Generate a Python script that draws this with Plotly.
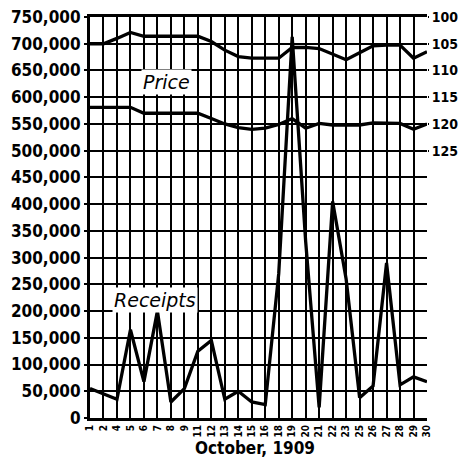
import plotly.graph_objects as go

days = ["1", "2", "4", "5", "6", "7", "8", "9", "11", "12", "13", "14", "15",
        "16", "18", "19", "20", "21", "22", "23", "25", "26", "27", "28", "29", "30"]

receipts = [55000, 45000, 35000, 165000, 68000, 200000, 30000, 55000, 125000, 145000,
            35000, 50000, 30000, 25000, 270000, 713000, 330000, 20000, 405000, 260000,
            38000, 60000, 290000, 62000, 77000, 68000]

price_high = [105.0, 105.0, 104.0, 102.9, 103.6, 103.6, 103.6, 103.6, 103.6, 104.6,
              106.2, 107.4, 107.7, 107.7, 107.7, 105.7, 105.7, 105.9, 107.0, 108.0,
              106.7, 105.4, 105.25, 105.25, 107.7, 106.5]

price_low = [116.9, 116.9, 116.9, 116.9, 118.0, 118.0, 118.0, 118.0, 118.0, 119.0,
             120.0, 120.7, 121.0, 120.8, 120.1, 119.0, 120.8, 119.9, 120.2, 120.2,
             120.2, 119.8, 119.9, 119.9, 121.0, 120.0]

left_ticks = list(range(0, 750001, 50000))
left_labels = ["0" if v == 0 else f"{v:,}" for v in left_ticks]
right_ticks = [100, 105, 110, 115, 120, 125]
right_labels = [str(v) for v in right_ticks]

xs = list(range(len(days)))
FONT = "DejaVu Sans Condensed, DejaVu Sans, sans-serif"
FONT_IT = "DejaVu Sans, sans-serif"

fig = go.Figure()
fig.add_trace(go.Scatter(x=xs, y=receipts, mode="lines",
                         line=dict(color="black", width=3.3), showlegend=False))
fig.add_trace(go.Scatter(x=xs, y=price_high, mode="lines", yaxis="y2",
                         line=dict(color="black", width=3.3), showlegend=False))
fig.add_trace(go.Scatter(x=xs, y=price_low, mode="lines", yaxis="y2",
                         line=dict(color="black", width=3.3), showlegend=False))

fig.update_layout(
    width=458, height=461,
    margin=dict(l=90, r=31, t=17, b=43),
    plot_bgcolor="white", paper_bgcolor="white",
    font=dict(family=FONT, color="black"),
    xaxis=dict(range=[0, len(days) - 1], tickvals=xs, ticktext=days,
               tickangle=-90, tickfont=dict(size=10, family=FONT, weight="bold"),
               showgrid=True, gridcolor="black", gridwidth=2,
               showline=True, linecolor="black", linewidth=3, mirror=True,
               ticks="", zeroline=False, automargin=False),
    yaxis=dict(range=[0, 750000], tickvals=left_ticks, ticktext=left_labels,
               tickfont=dict(size=17, family=FONT, weight="bold"),
               showgrid=True, gridcolor="black", gridwidth=2,
               showline=True, linecolor="black", linewidth=3,
               ticks="outside", ticklen=3, tickwidth=2, tickcolor="black",
               zeroline=False, automargin=False),
    yaxis2=dict(range=[175, 100], overlaying="y", side="right",
                tickvals=right_ticks, ticktext=right_labels,
                tickfont=dict(size=14, family=FONT, weight="bold"),
                showgrid=False, showline=False,
                ticks="outside", ticklen=1, tickwidth=2, tickcolor="black",
                zeroline=False, automargin=False),
    annotations=[
        dict(text="October, 1909", xref="paper", yref="paper", x=0.49, y=-0.075,
             showarrow=False, yanchor="middle",
             font=dict(size=17, family=FONT, weight="bold")),
        dict(text="<i>Price</i>", x=5.64, y=628000, xref="x", yref="y",
             showarrow=False, bgcolor="white", borderpad=1,
             font=dict(size=19, family=FONT_IT)),
        dict(text="<i>Receipts</i>", x=4.82, y=221000, xref="x", yref="y",
             showarrow=False, bgcolor="white", borderpad=1,
             font=dict(size=19, family=FONT_IT)),
    ],
)

fig.write_html(
    "out.html",
    config={"displayModeBar": False},
    post_script="document.body.style.margin='0px';document.body.style.overflow='hidden';",
)
